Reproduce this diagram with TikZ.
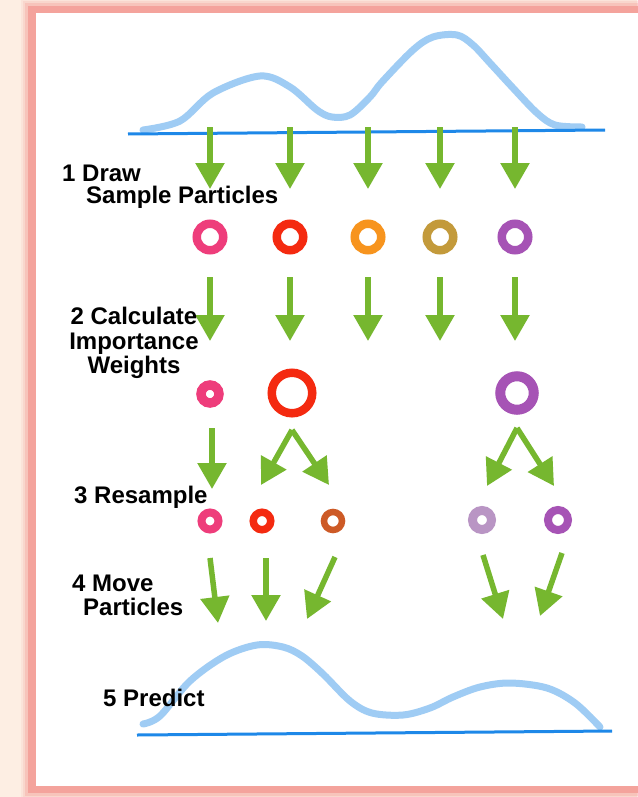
\documentclass[tikz,border=0pt]{standalone}
\usepackage{fontspec}
\setmainfont{Liberation Sans}
\usetikzlibrary{arrows.meta}
\definecolor{peach}{HTML}{FDEEE3}
\definecolor{framepink}{HTML}{F4A39C}
\definecolor{curveblue}{HTML}{9FCCF4}
\definecolor{baseblue}{HTML}{1E88E8}
\definecolor{arrgreen}{HTML}{76B72F}
\definecolor{ppink}{HTML}{EE3D7B}
\definecolor{pred}{HTML}{F42A10}
\definecolor{porange}{HTML}{F7941E}
\definecolor{pgold}{HTML}{C39A3B}
\definecolor{ppurple}{HTML}{A653B5}
\definecolor{pbrown}{HTML}{CD5A26}
\definecolor{plilac}{HTML}{B995C4}
\begin{document}
\begin{tikzpicture}[x=1pt,y=-1pt,
  ring/.style={circle, inner sep=0pt, outer sep=0pt, draw=#1},
  garrow/.style={draw=arrgreen, line width=5.5pt, -{Triangle[width=28pt,length=26pt]}},
  lbl/.style={inner sep=0pt, text=black},
  dens/.style={draw=curveblue, line width=7pt, line cap=round, line join=round},
  axisline/.style={draw=baseblue, line width=3pt}]
\useasboundingbox (0,0) rectangle (637,797);
% background and frame
\fill[peach] (0,0) rectangle (637,797);
\foreach \d/\o in {7/0.12,5/0.2,3/0.35} \fill[framepink, opacity=\o] (28-\d,6-\d) rectangle (660,793+\d);
\fill[framepink] (28,6) rectangle (660,793);
\fill[white] (36,13) rectangle (660,786);
% top density
\draw[dens] plot[smooth, tension=0.55] coordinates {(143,130) (180,121) (213,93) (260,76) (290,87) (317,110) (332,117) (350,115) (370,97) (382,82) (413,50) (433,37) (457,35) (473,45) (490,63) (513,88) (537,113) (555,125) (582,127)};
\draw[axisline] (128,134) -- (605,130);
% step 1 arrows
\foreach \i/\x in {1/210,2/290,3/368,4/440,5/515} {
  \coordinate (p\i s) at (\x,127); \coordinate (p\i e) at (\x,189);
  \draw[garrow] (p\i s) -- (p\i e);
}
% row 1 particles
\node[ring=ppink, line width=8.5pt, minimum size=26.5pt] (a1) at (210,237) {};
\node[ring=pred, line width=8.5pt, minimum size=26.5pt] (a2) at (290,237) {};
\node[ring=porange, line width=8.5pt, minimum size=26.5pt] (a3) at (368,237) {};
\node[ring=pgold, line width=8.5pt, minimum size=26.5pt] (a4) at (440,237) {};
\node[ring=ppurple, line width=8.5pt, minimum size=26.5pt] (a5) at (515,237) {};
% step 2 arrows
\foreach \i/\x in {1/210,2/290,3/368,4/440,5/515} {
  \coordinate (q\i s) at (\x,277); \coordinate (q\i e) at (\x,341);
  \draw[garrow] (q\i s) -- (q\i e);
}
% row 2 weighted particles
\node[ring=ppink, line width=9.5pt, minimum size=18pt] (b1) at (210,394) {};
\node[ring=pred, line width=8.5pt, minimum size=40.5pt] (b2) at (292,393) {};
\node[ring=ppurple, line width=10pt, minimum size=33.5pt] (b5) at (517,393) {};
% step 3 arrows
\coordinate (r1s) at (212,428); \coordinate (r1e) at (212,489);
\coordinate (r2s) at (292,430); \coordinate (r2e) at (261,485); \coordinate (r3e) at (329,485);
\coordinate (r4s) at (517,428); \coordinate (r4e) at (487,486); \coordinate (r5e) at (554,486);
\draw[garrow] (r1s) -- (r1e);
\draw[garrow] (r2s) -- (r2e);
\draw[garrow] (r2s) -- (r3e);
\draw[garrow] (r4s) -- (r4e);
\draw[garrow] (r4s) -- (r5e);
% row 3 resampled particles
\node[ring=ppink, line width=8pt, minimum size=17pt] (c1) at (210,521) {};
\node[ring=pred, line width=7.5pt, minimum size=17.5pt] (c2) at (262,521) {};
\node[ring=pbrown, line width=6.5pt, minimum size=18pt] (c3) at (333,521) {};
\node[ring=plilac, line width=9pt, minimum size=19pt] (c4) at (482,520) {};
\node[ring=ppurple, line width=8pt, minimum size=20pt] (c5) at (558,520) {};
% step 4 arrows
\coordinate (m1s) at (210,558); \coordinate (m1e) at (218,623);
\coordinate (m2s) at (266,558); \coordinate (m2e) at (266,621);
\coordinate (m3s) at (335,557); \coordinate (m3e) at (307,619);
\coordinate (m4s) at (483,555); \coordinate (m4e) at (503,619);
\coordinate (m5s) at (562,553); \coordinate (m5e) at (540,616);
\foreach \i in {1,...,5} \draw[garrow] (m\i s) -- (m\i e);
% bottom density
\draw[dens] plot[smooth, tension=0.55] coordinates {(143,724) (160,716) (190,681) (225,656) (257,645) (283,647) (302,656) (323,674) (350,701) (372,713) (403,715) (430,708) (453,697) (480,687) (510,683) (547,688) (575,703) (600,727)};
\draw[axisline] (137,735) -- (612,731);
% labels
\node[lbl, anchor=west, align=left, font=\fontsize{24}{22}\selectfont\bfseries] (L1) at (62,187) {1 Draw\\\hspace*{24pt}Sample Particles};
\node[lbl, align=center, font=\fontsize{24}{24.5}\selectfont\bfseries] (L2) at (134,343) {2 Calculate\\Importance\\Weights};
\node[lbl, anchor=west, font=\fontsize{24}{24}\selectfont\bfseries] (L3) at (74,497) {3 Resample};
\node[lbl, anchor=west, align=left, font=\fontsize{24}{24}\selectfont\bfseries] (L4) at (72,595) {4 Move\\\hspace*{11pt}Particles};
\node[lbl, anchor=west, font=\fontsize{24}{24}\selectfont\bfseries] (L5) at (103,698) {5 Predict};
\end{tikzpicture}
\end{document}
